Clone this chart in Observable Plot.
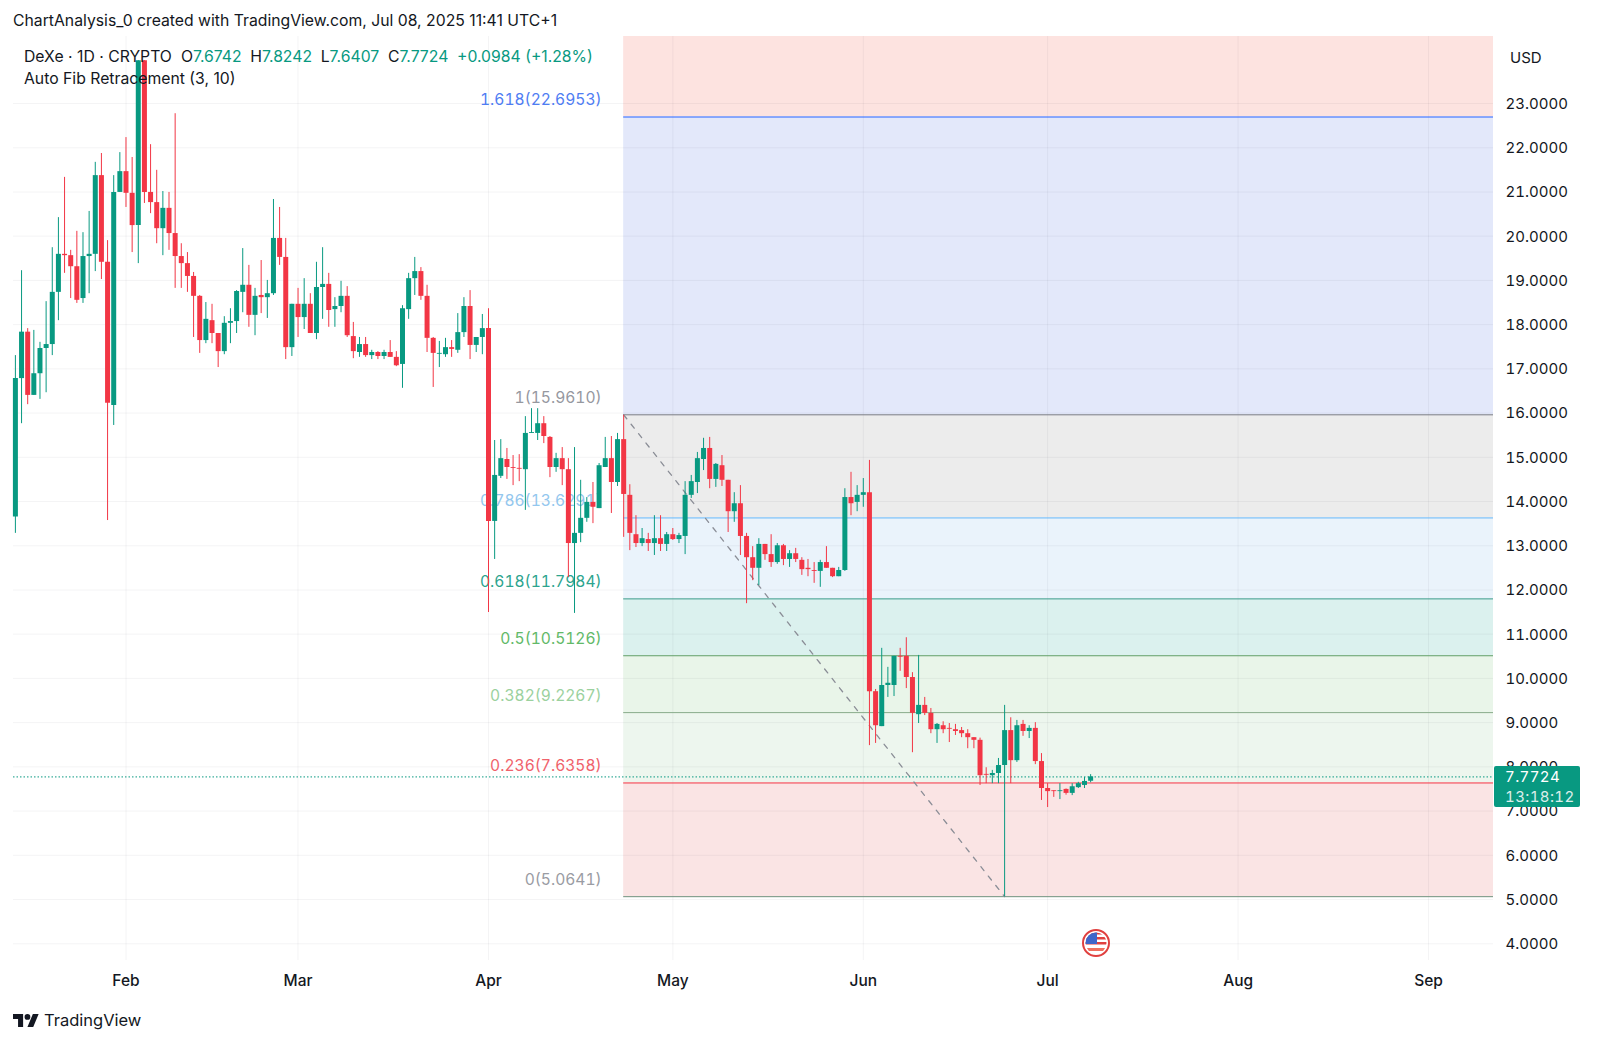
<!DOCTYPE html>
<html><head><meta charset="utf-8">
<script src="https://cdn.jsdelivr.net/npm/d3@7"></script>
<script src="https://cdn.jsdelivr.net/npm/@observablehq/plot@0.6"></script>
<style>
html,body{margin:0;padding:0;background:#fff;overflow:hidden}
body{width:1600px;height:1043px;position:relative;font-family:Inter,"Noto Sans",sans-serif;color:#131722}
#head{height:36px;box-sizing:border-box;padding:12px 0 0 13px;font-size:15.75px;line-height:18px;white-space:nowrap}
#legend{position:absolute;left:24px;top:46px;font-size:15.75px;line-height:21.5px;white-space:nowrap;z-index:2}
#legend b{font-weight:400;color:#089981}
#legend span{margin-left:8.7px}
#foot{position:absolute;left:13px;top:1009px;display:flex;align-items:center;gap:5px;font-size:16.5px;line-height:22px;color:#131722}
#usd{position:absolute;left:1510px;top:49px;font-size:15px;line-height:18px}
#tag{position:absolute;left:1494px;width:86px;height:41px;background:#089981;border-radius:2px;color:#fff;font-size:15px;line-height:20px;letter-spacing:.4px;font-variant-numeric:tabular-nums;box-sizing:border-box;padding:1px 0 0 11px;z-index:2}
#tag div+div{opacity:.85}
#flag{position:absolute;width:30px;height:30px}
svg{display:block}
</style></head><body>
<div id="head">ChartAnalysis_0 created with TradingView.com, Jul 08, 2025 11:41 UTC+1</div>
<div id="legend"><div>DeXe · 1D · CRYPTO<span style="margin-left:9px">O<b>7.6742</b></span><span>H<b>7.8242</b></span><span>L<b>7.6407</b></span><span>C<b>7.7724</b></span><span><b>+0.0984 (+1.28%)</b></span></div><div>Auto Fib Retracement (3, 10)</div></div>
<div id="usd">USD</div>
<div id="chart"></div>
<div id="foot"><svg width="26" height="13" viewBox="0 4 36 18"><path fill="#131722" d="M14 22H7V11H0V4h14v18zM28 22h-8l7.5-18h8L28 22z"/><circle fill="#131722" cx="20" cy="8" r="4"/></svg><span>TradingView</span></div>
<script>
const firstDay = Date.UTC(2025, 0, 14);
const opens = [13.65,16.78,17.83,16.40,16.89,17.46,17.55,18.73,19.59,19.56,19.31,18.59,19.54,19.59,21.37,19.41,16.17,20.99,21.46,20.97,20.24,23.97,20.99,20.76,20.17,20.63,20.06,19.54,19.38,19.09,18.64,17.64,18.09,17.80,17.39,18.03,18.07,18.73,18.89,18.21,18.66,18.61,18.70,19.95,19.52,17.48,18.46,18.16,18.46,17.80,18.84,18.91,18.34,18.41,18.64,17.73,17.37,17.55,17.30,17.37,17.28,17.37,17.26,17.10,18.34,19.04,19.20,18.64,17.69,17.33,17.32,17.48,17.42,17.82,18.41,17.53,17.71,17.91,13.55,14.57,14.95,14.77,14.75,14.72,15.54,15.54,15.76,15.45,14.77,14.97,14.72,13.05,13.28,13.62,13.98,13.84,14.77,14.97,14.43,15.40,14.14,13.25,13.05,13.14,13.05,13.16,13.03,13.25,13.14,13.21,14.14,14.43,14.95,15.20,14.50,14.81,14.48,13.77,13.95,13.21,12.73,12.49,13.03,12.80,12.62,13.00,12.69,12.82,12.67,12.49,12.44,12.42,12.62,12.49,12.30,12.44,14.09,13.98,14.14,14.20,9.70,8.91,9.84,9.84,10.50,10.50,10.02,9.18,9.39,9.21,8.84,8.93,8.87,8.84,8.82,8.75,8.66,8.60,7.83,7.80,7.85,8.03,8.82,8.14,8.96,8.80,8.87,8.12,7.51,7.46,7.44,7.49,7.40,7.53,7.58,7.6742];
const highs = [17.30,19.22,17.91,17.87,17.60,18.52,19.74,20.42,21.33,19.68,20.11,20.08,20.56,21.67,21.87,19.90,21.37,21.89,22.23,21.78,23.97,23.97,22.07,21.49,21.01,20.99,22.77,19.83,19.63,19.18,18.66,18.50,18.46,17.80,18.18,18.36,18.77,19.72,19.34,18.82,19.45,19.00,20.83,20.65,19.95,18.46,18.82,19.04,18.70,19.41,19.74,19.16,18.61,18.98,18.86,18.05,17.71,17.71,17.42,17.39,17.42,17.64,17.39,18.43,19.16,19.52,19.29,18.89,17.71,17.62,17.69,17.64,18.25,18.61,18.77,17.71,18.23,18.36,15.38,15.40,15.20,15.04,15.06,15.92,16.10,16.10,15.92,15.47,15.09,15.22,14.97,15.22,14.48,14.09,14.43,14.86,15.45,15.47,15.54,15.95,14.38,13.68,13.39,13.28,13.68,13.68,13.30,13.39,13.28,14.45,14.59,15.11,15.43,15.45,14.86,15.04,14.48,14.20,14.36,13.28,12.98,13.16,13.03,13.25,13.05,13.03,12.89,12.94,12.73,12.69,12.62,12.67,12.98,12.49,12.51,14.29,14.66,14.36,14.52,14.93,9.75,10.68,10.25,10.50,10.68,10.92,10.13,10.52,9.57,9.32,8.98,9.02,8.98,8.96,8.89,8.84,8.66,8.65,7.98,7.92,8.19,9.39,9.11,9.05,9.05,8.93,9.00,8.30,7.62,7.46,7.62,7.50,7.62,7.65,7.76,7.8242];
const lows = [13.28,15.76,16.19,16.40,16.31,16.46,17.30,18.09,19.16,18.59,18.48,18.48,18.70,19.20,19.02,13.57,15.72,20.99,20.65,19.63,19.38,20.74,20.51,19.83,19.56,19.68,18.82,18.82,18.73,17.71,17.35,17.57,17.57,17.03,17.32,17.57,17.80,18.27,17.94,17.75,18.25,18.14,18.66,19.34,17.21,17.28,17.71,17.89,17.80,17.66,18.12,17.94,17.94,18.27,17.71,17.23,17.26,17.26,17.21,17.21,17.21,17.26,17.05,16.56,18.12,18.66,18.55,17.37,16.58,17.03,17.26,17.26,17.35,17.71,17.21,17.37,17.32,11.49,12.69,14.52,14.50,14.36,14.45,13.80,15.54,15.38,15.31,14.54,14.66,14.36,12.28,11.47,13.07,13.53,13.50,13.84,14.77,13.73,14.34,13.19,12.89,12.96,12.98,12.87,12.78,12.87,12.87,13.12,13.05,12.80,14.07,14.18,14.70,14.29,14.32,14.34,13.30,13.53,12.78,11.69,12.21,12.10,12.67,12.51,12.58,12.55,12.51,12.62,12.33,12.30,12.15,12.06,12.49,12.28,12.30,12.42,13.68,13.77,13.87,8.48,8.53,8.91,9.57,9.59,10.16,9.77,8.32,8.98,9.16,8.75,8.53,8.75,8.55,8.71,8.66,8.41,8.41,7.58,7.62,7.62,7.62,5.06,7.62,8.10,8.69,8.64,8.05,7.24,7.08,7.31,7.26,7.36,7.35,7.51,7.51,7.6407];
const closes = [16.78,17.83,16.40,16.89,17.46,17.55,18.73,19.59,19.56,19.31,18.55,19.54,19.59,21.37,19.41,16.22,20.99,21.46,20.97,20.24,23.97,20.99,20.76,20.17,20.63,20.06,19.54,19.38,19.09,18.64,17.64,18.12,17.80,17.39,18.03,18.07,18.75,18.89,18.21,18.64,18.61,18.70,19.95,19.52,17.48,18.46,18.16,18.46,17.80,18.84,18.91,18.32,18.41,18.64,17.75,17.39,17.55,17.30,17.37,17.28,17.37,17.26,17.07,18.36,19.04,19.20,18.64,17.69,17.35,17.35,17.48,17.44,17.82,18.41,17.53,17.71,17.91,13.55,14.59,14.97,14.77,14.75,14.73,15.54,15.56,15.76,15.47,14.77,14.97,14.72,13.05,13.28,13.62,13.98,13.87,14.81,14.97,14.43,15.40,14.16,13.28,13.05,13.16,13.05,13.16,13.03,13.25,13.14,13.23,14.14,14.45,14.97,15.20,14.50,14.84,14.48,13.77,13.95,13.21,12.73,12.49,13.03,12.80,12.62,13.00,12.69,12.82,12.69,12.46,12.46,12.42,12.62,12.49,12.30,12.44,14.09,13.95,14.14,14.20,9.70,8.93,9.84,9.89,10.50,10.48,10.02,9.21,9.39,9.21,8.84,8.96,8.84,8.85,8.80,8.75,8.66,8.60,7.80,7.81,7.85,8.03,8.82,8.14,8.93,8.80,8.87,8.12,7.51,7.44,7.44,7.46,7.40,7.55,7.62,7.67,7.7724];

const fibRatios = ["1.618","1","0.786","0.618","0.5","0.382","0.236","0"];
const fibPrices = [22.6953,15.9610,13.6291,11.7984,10.5126,9.2267,7.6358,5.0641];
const fibLines = ["#2962ff","#787b86","#64b5f6","#3c9a8c","#5f9f68","#87ab8a","#f23645","#6f8f7c"];
const fibText = ["#4f7df3","#96989f","#93c7ee","#2da48e","#62b968","#9bd19e","#f0626b","#9a9ca3"];
const bandTops = [24.516,22.6953,15.9610,13.6291,11.7984,10.5126,9.2267,7.6358];
const bandBottoms = [22.6953,15.9610,13.6291,11.7984,10.5126,9.2267,7.6358,5.0641];
const bandFills = ["#fde3e0","#e3e8fa","#ececec","#eaf3fb","#dbf1ee","#e9f5e9","#edf6ee","#fae4e4"];
const priceTicks = d3.range(4, 24);
const monthTicks = ["2025-02-01","2025-03-01","2025-04-01","2025-05-01","2025-06-01","2025-07-01","2025-08-01","2025-09-01"].map(d => new Date(d));
const xDomain = [new Date("2025-01-13T16:34:00Z"), new Date("2025-09-11T13:40:00Z")];
const yDomain = [3.621, 24.516];
const fibStart = new Date("2025-04-23");
const fibLow = new Date("2025-06-24");
const lastPrice = 7.7724;
const eventDay = new Date("2025-07-09");

const candles = opens.map((o, i) => ({date: new Date(firstDay + i * 864e5), open: o, high: highs[i], low: lows[i], close: closes[i]}));
const up = candles.filter(d => d.close >= d.open);
const down = candles.filter(d => d.close < d.open);
const green = "#089981", red = "#f23645";
const bands = bandFills.map((fill, i) => ({top: bandTops[i], bottom: bandBottoms[i], fill}));
const fibs = fibRatios.map((r, i) => ({ratio: r, price: fibPrices[i], line: fibLines[i], text: fibText[i], label: `${r}(${fibPrices[i].toFixed(4)})`}));
const gridStroke = "rgba(42,46,57,0.05)";

const chart = Plot.plot({
  width: 1600, height: 964, marginTop: 0, marginBottom: 40, marginLeft: 13, marginRight: 107,
  style: {fontFamily: "Inter, sans-serif", fontSize: "15px", color: "#131722", background: "transparent"},
  x: {type: "utc", domain: xDomain},
  y: {domain: yDomain},
  marks: [
    ...bands.map(b => Plot.rect([b], {x1: fibStart, x2: xDomain[1], y1: "bottom", y2: "top", fill: b.fill})),
    Plot.ruleY(priceTicks, {stroke: gridStroke}),
    Plot.ruleX(monthTicks, {stroke: gridStroke}),
    ...fibs.map(f => Plot.ruleY([f.price], {x1: fibStart, x2: xDomain[1], stroke: f.line, strokeWidth: 1})),
    ...fibs.map(f => Plot.text([f], {x: () => fibStart, y: "price", text: "label", fill: f.text, textAnchor: "end", dx: -22, dy: -17, fontSize: 15.6, fontVariant: "tabular-nums"})),
    Plot.line([{d: fibStart, p: fibPrices[1]}, {d: fibLow, p: fibPrices[7]}], {x: "d", y: "p", stroke: "#8a8d96", strokeWidth: 1.3, strokeDasharray: "5 7"}),
    Plot.ruleY([lastPrice], {x1: xDomain[0], x2: xDomain[1], stroke: green, strokeWidth: 1, strokeDasharray: "1.5 2"}),
    Plot.ruleX(up, {x: "date", y1: "low", y2: "high", stroke: green, strokeWidth: 1}),
    Plot.ruleX(down, {x: "date", y1: "low", y2: "high", stroke: red, strokeWidth: 1}),
    Plot.ruleX(up, {x: "date", y1: "open", y2: "close", stroke: green, strokeWidth: 5}),
    Plot.ruleX(down, {x: "date", y1: "open", y2: "close", stroke: red, strokeWidth: 5}),
    Plot.axisY(priceTicks, {anchor: "right", label: null, tickSize: 0, tickPadding: 12, dy: 0.5, tickFormat: d => d.toFixed(4), fontSize: 15, fill: "#131722"}),
    Plot.axisX(monthTicks, {anchor: "bottom", label: null, tickSize: 0, tickPadding: 14, tickFormat: d3.utcFormat("%b"), fontSize: 15.5, fontWeight: 500, fill: "#131722"})
  ]
});
document.getElementById("chart").append(chart);

const sx = chart.scale("x"), sy = chart.scale("y");
const svgTop = 36;
const tag = document.createElement("div");
tag.id = "tag";
tag.style.top = (svgTop + sy.apply(lastPrice) - 10) + "px";
tag.innerHTML = "<div>7.7724</div><div>13:18:12</div>";
document.body.append(tag);
const flag = document.createElement("div");
flag.id = "flag";
flag.style.left = (sx.apply(eventDay) - 15) + "px";
flag.style.top = "928px";
flag.innerHTML = `<svg width="30" height="30" viewBox="0 0 30 30"><circle cx="15" cy="15" r="13" fill="#fff" stroke="#e0403f" stroke-width="2"/><clipPath id="c"><circle cx="15" cy="15" r="10.5"/></clipPath><g clip-path="url(#c)"><rect x="4" y="4" width="22" height="2.5" fill="#e0403f"/><rect x="4" y="9" width="22" height="2.5" fill="#e0403f"/><rect x="4" y="14" width="22" height="2.5" fill="#e0403f"/><rect x="4" y="20" width="22" height="3" fill="#f0705e"/><rect x="4" y="4" width="12" height="12" fill="#3f66c9"/></g></svg>`;
document.body.append(flag);
</script>
</body></html>
